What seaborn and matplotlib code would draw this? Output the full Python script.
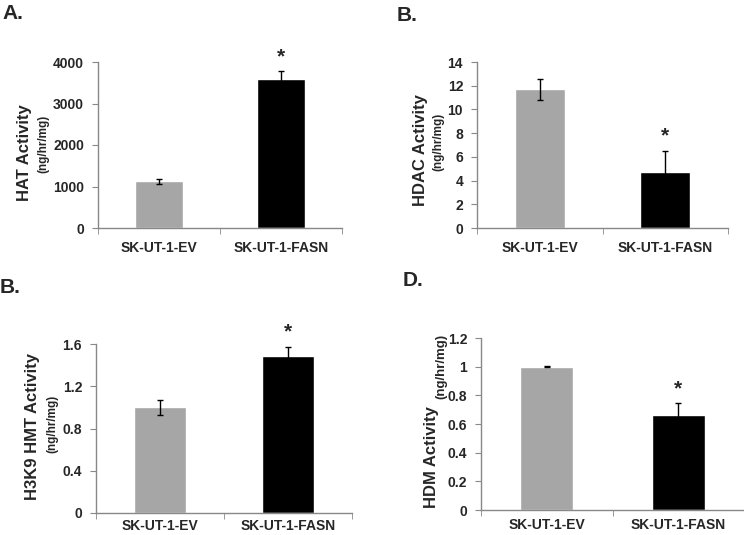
import matplotlib
matplotlib.use("Agg")
import matplotlib.pyplot as plt
import seaborn as sns
import pandas as pd
import numpy as np
from matplotlib.ticker import FixedLocator

sns.set_style("white")
plt.rcParams['font.family'] = ['Liberation Sans', 'DejaVu Sans']

categories = ["SK-UT-1-EV", "SK-UT-1-FASN"]
bar_colors = ["#a6a6a6", "#000000"]

hat_values = [1125, 3600]
hat_errors = [60, 190]
hdac_values = [11.7, 4.7]
hdac_errors = [0.9, 1.83]
hmt_values = [1.0, 1.49]
hmt_errors = [0.07, 0.085]
hdm_values = [1.0, 0.664]
hdm_errors = [0.003, 0.08]

hat_ticks = [0, 1000, 2000, 3000, 4000]
hdac_ticks = [0, 2, 4, 6, 8, 10, 12, 14]
hmt_ticks = [0, 0.4, 0.8, 1.2, 1.6]
hmt_ticklabels = ["0", "0.4", "0.8", "1.2", "1.6"]
hdm_ticks = [0, 0.2, 0.4, 0.6, 0.8, 1.0, 1.2]
hdm_ticklabels = ["0", "0.2", "0.4", "0.6", "0.8", "1", "1.2"]

W, H = 744, 535
fig = plt.figure(figsize=(W / 100, H / 100), dpi=100)


def rect(l, t, r, b):
    return [l / W, 1 - b / H, (r - l) / W, (b - t) / H]


def fx(x):
    return x / W


def fy(y):
    return 1 - y / H


def panel(pos, values, errors, ticks, ticklabels, ymax, star_offset, xpad):
    ax = fig.add_axes(pos)
    df = pd.DataFrame({"cat": categories, "val": values})
    sns.barplot(data=df, x="cat", y="val", hue="cat", palette=bar_colors,
                width=0.4, legend=False, ax=ax, errorbar=None, saturation=1)
    ax.errorbar([0, 1], values, yerr=errors, fmt="none", ecolor="black",
                elinewidth=1, capsize=2.5, capthick=1)
    # significance star over second bar
    top = values[1] + errors[1]
    ax.text(1, top + star_offset, "*", ha="center", va="bottom",
            fontsize=15, fontweight="bold")
    ax.set_xlim(-0.5, 1.5)
    ax.set_ylim(0, ymax)
    ax.set_yticks(ticks)
    ax.set_yticklabels(ticklabels, fontsize=10, fontweight="bold")
    ax.set_xticks([0, 1])
    ax.set_xticklabels(categories, fontsize=10, fontweight="bold")
    ax.xaxis.set_minor_locator(FixedLocator([-0.5, 0.5, 1.5]))
    ax.tick_params(axis="x", which="major", length=0, pad=xpad)
    ax.tick_params(axis="x", which="minor", length=4, color="#888888",
                   direction="out", bottom=True)
    ax.tick_params(axis="y", length=4, color="#888888", direction="out",
                   left=True, pad=6)
    for s in ["top", "right"]:
        ax.spines[s].set_visible(False)
    for s in ["left", "bottom"]:
        ax.spines[s].set_color("#888888")
        ax.spines[s].set_linewidth(1)
    ax.set_xlabel("")
    ax.set_ylabel("")
    ax.set_facecolor("white")
    return ax


# A
panel(rect(98, 62, 342, 228), hat_values, hat_errors, hat_ticks,
      [str(t) for t in hat_ticks], 4000, 110, 9)
# B (HDAC)
panel(rect(477, 62, 728, 228), hdac_values, hdac_errors, hdac_ticks,
      [str(t) for t in hdac_ticks], 14, 0.45, 9)
# B (H3K9)
panel(rect(96, 344, 352, 513), hmt_values, hmt_errors, hmt_ticks,
      hmt_ticklabels, 1.6, 0.045, 4.5)
# D
panel(rect(481, 338, 744, 510), hdm_values, hdm_errors, hdm_ticks,
      hdm_ticklabels, 1.2, 0.035, 6)

# Panel letters
for txt, x, y in [("A.", 2, 4), ("B.", 397, 6), ("B.", 0, 278), ("D.", 403, 271)]:
    fig.text(fx(x), fy(y), txt, ha="left", va="top", fontsize=15,
             fontweight="bold")

# Y labels
lab = dict(rotation=90, ha="center", va="center", fontweight="bold")
fig.text(fx(25), fy(153), "HAT Activity", fontsize=12, **lab)
fig.text(fx(43), fy(144), "(ng/hr/mg)", fontsize=8.5, **lab)

fig.text(fx(420), fy(150), "HDAC Activity", fontsize=12, **lab)
fig.text(fx(438), fy(142), "(ng/hr/mg)", fontsize=8.5, **lab)

fig.text(fx(33), fy(427), "H3K9 HMT Activity", fontsize=12, **lab)
fig.text(fx(52), fy(424), "(ng/hr/mg)", fontsize=8.5, **lab)

fig.text(fx(431), fy(508), "HDM Activity", fontsize=12, rotation=90,
         ha="center", va="bottom", fontweight="bold")
fig.text(fx(441), fy(399), "(ng/hr/mg)", fontsize=9.5, rotation=90,
         ha="center", va="bottom", fontweight="bold")

fig.savefig("out.png", dpi=100, facecolor="white")
